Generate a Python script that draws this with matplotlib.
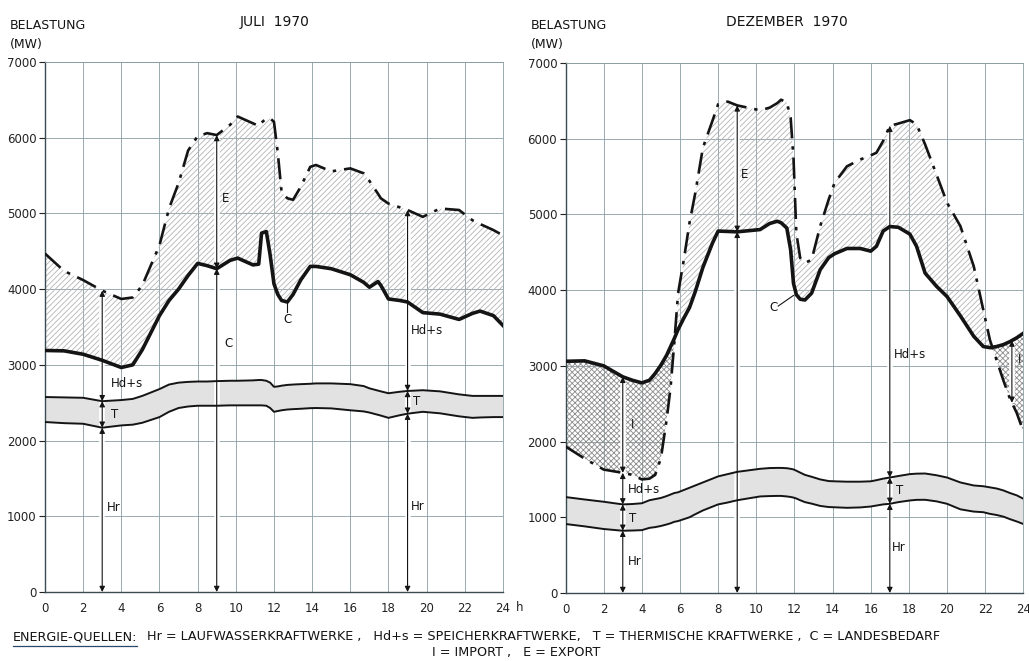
import matplotlib
matplotlib.use('Agg')
import matplotlib.pyplot as plt
import numpy as np
from matplotlib.lines import Line2D

plt.rcParams['font.family'] = ['DejaVu Sans']
plt.rcParams['hatch.linewidth'] = 0.6

# Juli 1970: Stunde, Landesbedarf C, Gesamterzeugung, Oberkante T, Oberkante Hr (MW)
hours_jul = [0, 1, 2, 3, 4, 4.6, 5.1, 6, 6.5, 7, 7.5, 8, 8.5, 9, 9.7, 10.1, 10.9,
             11.2, 11.35, 11.6, 11.8, 12, 12.2, 12.4, 12.7, 13, 13.4, 13.9, 14.2,
             15, 16, 16.7, 17, 17.45, 17.6, 18, 18.6, 19, 19.8, 20.7, 21.7, 22.4,
             22.8, 23.5, 24]
c_jul = [3190, 3185, 3140, 3060, 2965, 3000, 3200, 3650, 3850, 4000, 4180, 4340,
         4310, 4270, 4380, 4410, 4320, 4330, 4740, 4760, 4450, 4070, 3930, 3850,
         3830, 3930, 4120, 4300, 4300, 4270, 4190, 4090, 4025, 4100, 4050, 3870,
         3850, 3830, 3690, 3670, 3600, 3680, 3710, 3650, 3520]
total_jul = [4470, 4240, 4120, 3980, 3870, 3890, 4050, 4580, 5065, 5400, 5830, 6020,
             6060, 6035, 6170, 6280, 6190, 6155, 6200, 6255, 6255, 6210, 5800, 5280,
             5200, 5180, 5350, 5615, 5640, 5555, 5595, 5530, 5430, 5260, 5200, 5130,
             5080, 5045, 4955, 5065, 5045, 4910, 4860, 4780, 4710]
ttop_jul = [2575, 2570, 2565, 2520, 2535, 2550, 2590, 2680, 2740, 2765, 2775, 2780,
            2780, 2785, 2790, 2790, 2795, 2800, 2800, 2790, 2765, 2710, 2715, 2725,
            2735, 2740, 2745, 2750, 2755, 2755, 2745, 2720, 2690, 2660, 2650, 2625,
            2645, 2655, 2665, 2650, 2610, 2590, 2590, 2590, 2590]
hr_jul = [2245, 2230, 2222, 2170, 2200, 2210, 2235, 2310, 2380, 2430, 2450, 2460,
          2460, 2460, 2465, 2465, 2465, 2465, 2465, 2460, 2430, 2380, 2390, 2400,
          2410, 2415, 2420, 2428, 2430, 2425, 2400, 2385, 2370, 2340, 2330, 2300,
          2335, 2355, 2380, 2360, 2320, 2300, 2305, 2310, 2310]

# Dezember 1970
hours_dez = [0, 1, 2, 3, 3.5, 4, 4.4, 4.7, 5, 5.3, 5.5, 5.7, 5.9, 6.2, 6.5, 6.8, 7.2,
             7.7, 8, 8.5, 9, 10.2, 10.7, 11.1, 11.3, 11.6, 11.8, 11.95, 12.1, 12.3,
             12.55, 12.9, 13.35, 13.8, 14.1, 14.75, 15.45, 16, 16.3, 16.65, 17,
             17.45, 18.05, 18.4, 18.85, 19.45, 20, 20.7, 21.4, 21.9, 22.25, 22.6,
             22.95, 23.3, 23.65, 24]
c_dez = [3060, 3066, 3000, 2855, 2810, 2775, 2810, 2900, 3010, 3140, 3250, 3360,
         3480, 3630, 3770, 3980, 4300, 4620, 4780, 4775, 4770, 4800, 4880, 4910,
         4890, 4820, 4535, 4090, 3940, 3880, 3870, 3960, 4270, 4430, 4480, 4550,
         4550, 4515, 4580, 4780, 4840, 4830, 4740, 4580, 4225, 4050, 3915, 3660,
         3390, 3255, 3240, 3255, 3280, 3320, 3370, 3430]
total_dez = [1935, 1775, 1630, 1587, 1560, 1500, 1510, 1560, 1780, 2290, 2700, 3300,
             3960, 4400, 4890, 5280, 5880, 6235, 6455, 6490, 6440, 6375, 6410, 6470,
             6515, 6480, 6280, 5750, 4755, 4425, 4360, 4400, 4845, 5200, 5415, 5635,
             5725, 5780, 5815, 5970, 6170, 6200, 6245, 6190, 5925, 5525, 5155, 4845,
             4315, 3740, 3340, 3075, 2810, 2565, 2380, 2135]
ttop_dez = [1267, 1235, 1205, 1170, 1175, 1185, 1225, 1240, 1255, 1280, 1300, 1320,
            1330, 1360, 1390, 1420, 1460, 1510, 1540, 1570, 1600, 1640, 1650, 1652,
            1652, 1648, 1640, 1632, 1615, 1590, 1560, 1535, 1500, 1478, 1475, 1470,
            1470, 1475, 1490, 1510, 1525, 1545, 1570, 1576, 1578, 1555, 1525, 1460,
            1420, 1410, 1395, 1380, 1355, 1320, 1290, 1245]
hr_dez = [911, 880, 845, 822, 825, 830, 860, 870, 885, 905, 920, 940, 950, 975, 1000,
          1040, 1090, 1140, 1170, 1195, 1225, 1275, 1280, 1282, 1282, 1275, 1268,
          1260, 1248, 1225, 1200, 1180, 1150, 1135, 1132, 1125, 1130, 1142, 1155,
          1170, 1178, 1200, 1222, 1230, 1231, 1210, 1178, 1105, 1075, 1067, 1045,
          1030, 1009, 975, 945, 911]

xticks = list(range(0, 25, 2))
yticks = list(range(0, 7001, 1000))

INK = '#141414'
GRID = '#8b9ca2'


def dim(ax, x, levels):
    # Bemassungspfeile zwischen den Kurven
    ax.plot([x, x], [min(levels), max(levels)], color='white', lw=4, zorder=1.5,
            solid_capstyle='butt')
    for y0, y1 in zip(levels[:-1], levels[1:]):
        ax.annotate('', xy=(x, y1), xytext=(x, y0),
                    arrowprops=dict(arrowstyle='<|-|>', color=INK, lw=0.8,
                                    mutation_scale=8, shrinkA=0, shrinkB=0),
                    zorder=4)


def panel(ax, hours, c, total, ttop, hr, last_label):
    h = np.array(hours, dtype=float)
    c = np.array(c, dtype=float)
    total = np.array(total, dtype=float)
    ttop = np.array(ttop, dtype=float)
    hr = np.array(hr, dtype=float)

    ax.fill_between(h, hr, ttop, facecolor='#e2e2e2', lw=0, zorder=1)
    ax.fill_between(h, c, total, where=total >= c, interpolate=True,
                    facecolor='none', edgecolor='#b4b4b4', hatch='//////', lw=0, zorder=1)
    ax.fill_between(h, c, total, where=total < c, interpolate=True,
                    facecolor='none', edgecolor='#8c8c8c', hatch='xxxxxx', lw=0, zorder=1)

    ax.plot(h, hr, color=INK, lw=1.4, zorder=3)
    ax.plot(h, ttop, color=INK, lw=1.4, zorder=3)
    ax.plot(h, total, color=INK, lw=1.9, ls=(0, (8, 3, 1.3, 3)), zorder=3)
    ax.plot(h, c, color=INK, lw=2.6, zorder=3)

    ax.set_xlim(0, 24)
    ax.set_ylim(0, 7000)
    ax.set_xticks(xticks)
    ax.set_xticklabels([str(t) for t in xticks[:-1]] + [last_label])
    ax.set_yticks(yticks)
    ax.tick_params(axis='x', length=0, pad=7, labelsize=8.5, colors='#222')
    ax.tick_params(axis='y', length=4, width=0.8, pad=2, labelsize=8.5, colors='#222')
    ax.grid(True, color=GRID, lw=0.6)
    ax.set_axisbelow(True)
    for s in ['top', 'right']:
        ax.spines[s].set_color(GRID)
        ax.spines[s].set_linewidth(0.6)
    for s in ['left', 'bottom']:
        ax.spines[s].set_color('#3b4b52')
        ax.spines[s].set_linewidth(1.0)

    def at(x, arr):
        return float(np.interp(x, h, arr))
    return at, (h, c, total, ttop, hr)


def label(ax, x, y, s, **kw):
    ax.text(x, y, s, fontsize=8.5, color=INK, ha='center', va='center', zorder=5, **kw)


fig = plt.figure(figsize=(10.29, 6.61), dpi=100)
ax1 = fig.add_axes([0.0437, 0.1044, 0.4451, 0.8018])
ax2 = fig.add_axes([0.5496, 0.1029, 0.4449, 0.8018])

# Juli
at, (h, c, total, ttop, hr) = panel(ax1, hours_jul, c_jul, total_jul, ttop_jul, hr_jul, '24')
dim(ax1, 3, [0, at(3, hr), at(3, ttop), at(3, total)])
dim(ax1, 9, [0, at(9, c), at(9, total)])
dim(ax1, 19, [0, at(19, hr), at(19, ttop), at(19, total)])
label(ax1, 9.45, 5200, 'E')
label(ax1, 9.6, 3280, 'C')
label(ax1, 12.7, 3600, 'C')
ax1.plot([12.7, 12.7], [3700, at(12.7, c)], color=INK, lw=0.8, zorder=4)
label(ax1, 20.0, 3450, 'Hd+s')
label(ax1, 4.3, 2760, 'Hd+s')
label(ax1, 3.65, 2340, 'T')
label(ax1, 19.45, 2520, 'T')
label(ax1, 3.6, 1110, 'Hr')
label(ax1, 19.55, 1130, 'Hr')
ax1.text(24.65, -0.029, 'h', transform=ax1.get_xaxis_transform(), fontsize=8.5,
         color='#222', ha='left', va='center')

# Dezember
at, (h, c, total, ttop, hr) = panel(ax2, hours_dez, c_dez, total_dez, ttop_dez, hr_dez, '24')
dim(ax2, 3, [0, at(3, hr), at(3, ttop), at(3, total), at(3, c)])
dim(ax2, 9, [0, at(9, c), at(9, total)])
dim(ax2, 17, [0, at(17, hr), at(17, ttop), at(17, total)])
dim(ax2, 23.4, [at(23.4, total), at(23.4, c)])
label(ax2, 9.4, 5530, 'E')
label(ax2, 10.9, 3775, 'C')
ax2.plot([11.15, 11.95], [3790, 3930], color=INK, lw=0.8, zorder=4)
label(ax2, 18.05, 3155, 'Hd+s')
label(ax2, 3.5, 2220, 'I')
label(ax2, 4.1, 1365, 'Hd+s')
label(ax2, 3.5, 990, 'T')
label(ax2, 3.65, 410, 'Hr')
label(ax2, 17.5, 1355, 'T')
label(ax2, 17.45, 600, 'Hr')
label(ax2, 23.8, 3080, 'I')

# Titel und Achsenbeschriftung
fig.text(0.267, 0.967, 'JULI  1970', fontsize=10, ha='center', va='center', color=INK)
fig.text(0.765, 0.967, 'DEZEMBER  1970', fontsize=10, ha='center', va='center', color=INK)
for x0 in (10 / 1029, 531 / 1029):
    fig.text(x0, 0.962, 'BELASTUNG', fontsize=9, ha='left', va='center', color=INK)
    fig.text(x0, 0.932, '(MW)', fontsize=9, ha='left', va='center', color=INK)

# Legende unten
fig.canvas.draw()
r = fig.canvas.get_renderer()
t0 = fig.text(13 / 1029, 0.037, 'ENERGIE-QUELLEN:', fontsize=9.2, ha='left',
              va='center', color=INK)
bb = t0.get_window_extent(r).transformed(fig.transFigure.inverted())
fig.add_artist(Line2D([bb.x0, bb.x1], [bb.y0 - 0.004] * 2, color='#2b4a6a', lw=0.9,
                      transform=fig.transFigure))
fig.text(bb.x1 + 0.009, 0.037,
         'Hr = LAUFWASSERKRAFTWERKE ,   Hd+s = SPEICHERKRAFTWERKE,   '
         'T = THERMISCHE KRAFTWERKE ,  C = LANDESBEDARF',
         fontsize=9.2, ha='left', va='center', color=INK)
fig.text(516 / 1029, 0.013, 'I = IMPORT ,   E = EXPORT', fontsize=9.2, ha='center',
         va='center', color=INK)

fig.savefig('out.png', dpi=100, facecolor='white')
